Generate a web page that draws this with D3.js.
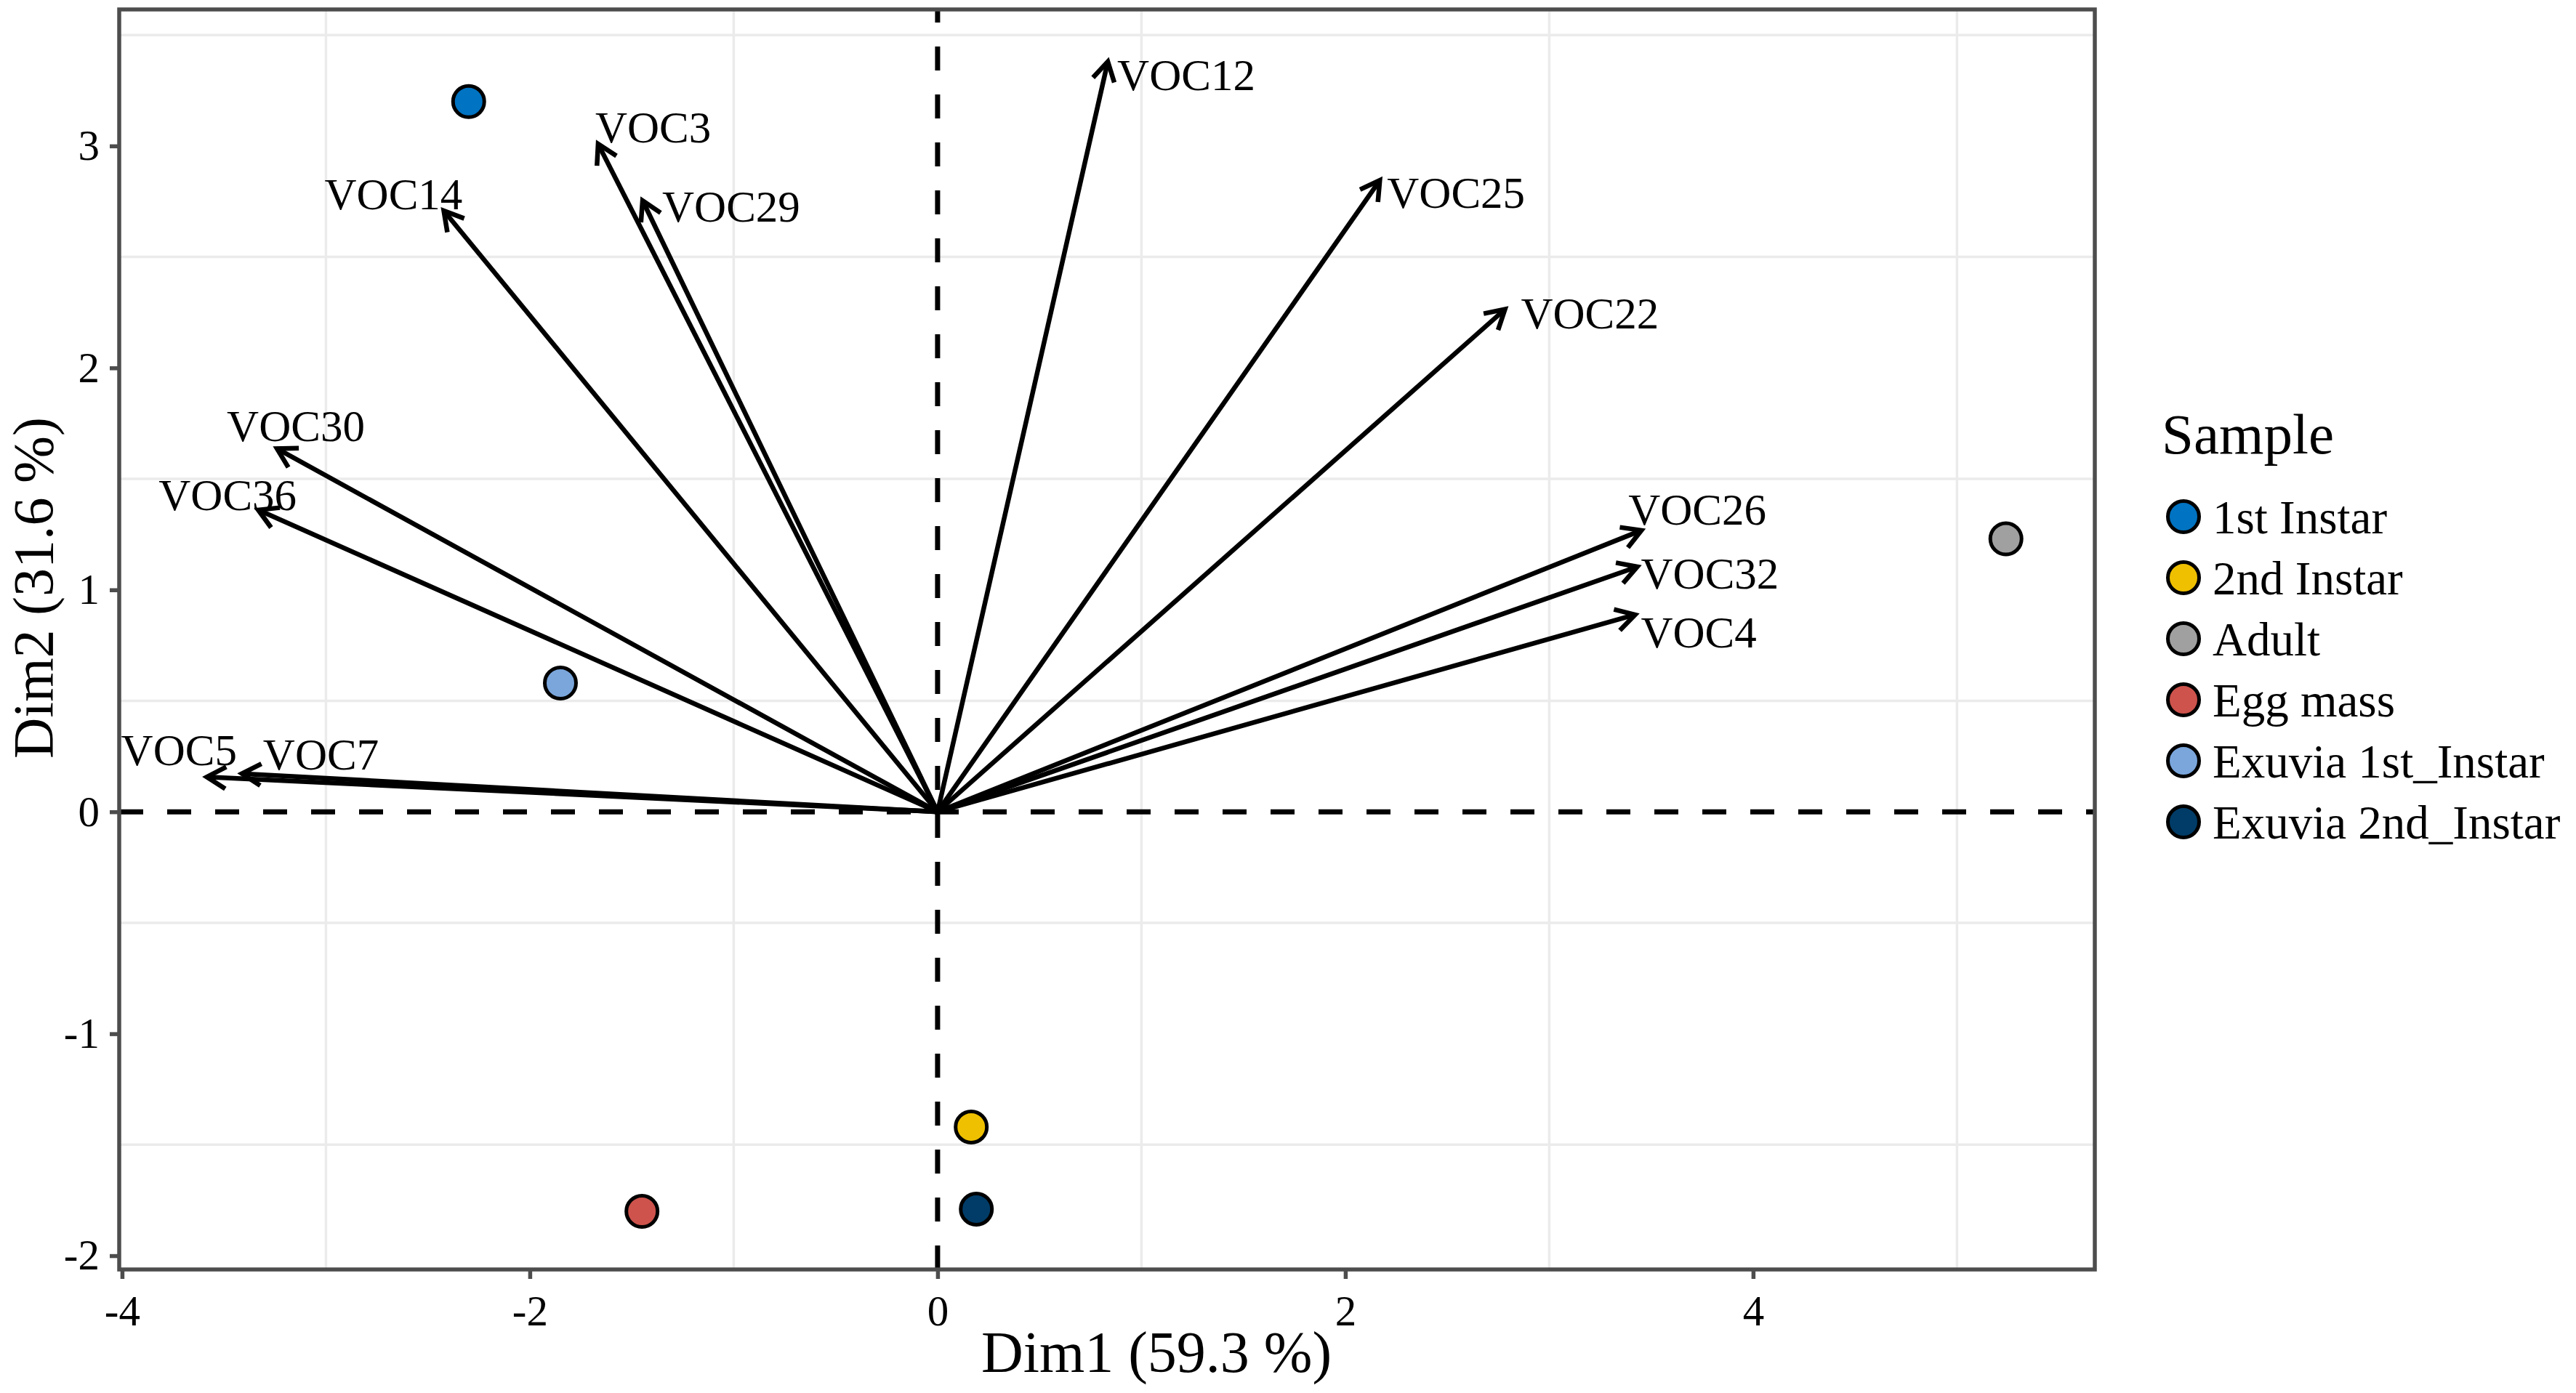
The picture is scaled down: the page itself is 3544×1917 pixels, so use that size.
<!DOCTYPE html>
<html>
<head>
<meta charset="utf-8">
<script src="https://cdn.jsdelivr.net/npm/d3@7"></script>
<style>
  html, body { margin: 0; padding: 0; background: #fff; }
  svg { display: block; }
  text { font-family: "Liberation Serif", "Times New Roman", serif; fill: #000; }
</style>
</head>
<body>
<svg id="chart" width="3544" height="1917"></svg>
<script>
// ---- data ----
const samples = ["1st Instar", "2nd Instar", "Adult", "Egg mass", "Exuvia 1st_Instar", "Exuvia 2nd_Instar"];
const sampleColors = ["#0073C2", "#EFC000", "#A0A0A0", "#CD534C", "#7AA6DC", "#003C67"];
const sampleDim1 = [-2.30, 0.165, 5.24, -1.45, -1.85, 0.19];
const sampleDim2 = [3.20, -1.42, 1.23, -1.80, 0.58, -1.79];

const variables = ["VOC3", "VOC29", "VOC14", "VOC30", "VOC36", "VOC5", "VOC7", "VOC12", "VOC25", "VOC22", "VOC26", "VOC32", "VOC4"];
const varDim1 = [-1.665, -1.447, -2.422, -3.240, -3.332, -3.584, -3.412, 0.835, 2.169, 2.783, 3.452, 3.432, 3.421];
const varDim2 = [3.009, 2.754, 2.708, 1.636, 1.360, 0.157, 0.172, 3.380, 2.845, 2.264, 1.268, 1.104, 0.888];

const xTicks = [-4, -2, 0, 2, 4];
const yTicks = [-2, -1, 0, 1, 2, 3];
const xMinorGrid = [-3, -1, 1, 3, 5];
const yMinorGrid = [-1.5, -0.5, 0.5, 1.5, 2.5, 3.5];
const xTitle = "Dim1 (59.3 %)";
const yTitle = "Dim2 (31.6 %)";
const legendTitle = "Sample";

// ---- layout (label nudges in px, text start/baseline relative to arrow tip) ----
const labelNudge = {
  VOC3: [-4, -2], VOC29: [27, 29], VOC14: [-164, -2], VOC30: [-69, -10],
  VOC36: [-137, 0], VOC5: [-118, -16], VOC7: [29, -6], VOC12: [13, 39],
  VOC25: [10, 38], VOC22: [22, 26], VOC26: [-18, -8], VOC32: [5, 30], VOC4: [8, 45]
};

const panel = { left: 164, right: 2882, top: 13, bottom: 1747 };
const x = d3.scaleLinear().domain([-4.014, 5.676]).range([panel.left, panel.right]);
const y = d3.scaleLinear().domain([-2.062, 3.615]).range([panel.bottom, panel.top]);

const svg = d3.select("#chart");
svg.append("rect").attr("width", 3544).attr("height", 1917).attr("fill", "#fff");

// grid (minor only visible)
const grid = svg.append("g");
grid.selectAll("line.vx").data(xMinorGrid).join("line")
  .attr("x1", d => x(d)).attr("x2", d => x(d))
  .attr("y1", panel.top).attr("y2", panel.bottom)
  .attr("stroke", "#ebebeb").attr("stroke-width", 3.5);
grid.selectAll("line.hy").data(yMinorGrid).join("line")
  .attr("y1", d => y(d)).attr("y2", d => y(d))
  .attr("x1", panel.left).attr("x2", panel.right)
  .attr("stroke", "#ebebeb").attr("stroke-width", 3.5);

// reference dashed lines
svg.append("line")
  .attr("x1", x(0)).attr("x2", x(0)).attr("y1", panel.bottom).attr("y2", panel.top)
  .attr("stroke", "#000").attr("stroke-width", 7).attr("stroke-dasharray", "33,33");
svg.append("line")
  .attr("x1", panel.left).attr("x2", panel.right).attr("y1", y(0)).attr("y2", y(0))
  .attr("stroke", "#000").attr("stroke-width", 7).attr("stroke-dasharray", "33,33");

// variable arrows
const vars = variables.map((v, i) => ({ name: v, d1: varDim1[i], d2: varDim2[i] }));
const arrows = svg.append("g").attr("stroke", "#000").attr("stroke-width", 6.5)
  .attr("fill", "none").attr("stroke-linecap", "butt");
const headLen = 30, headAng = Math.PI / 6;
vars.forEach(v => {
  const x0 = x(0), y0 = y(0), x1 = x(v.d1), y1 = y(v.d2);
  arrows.append("line").attr("x1", x0).attr("y1", y0).attr("x2", x1).attr("y2", y1);
  const ang = Math.atan2(y1 - y0, x1 - x0);
  const p1 = [x1 - headLen * Math.cos(ang - headAng), y1 - headLen * Math.sin(ang - headAng)];
  const p2 = [x1 - headLen * Math.cos(ang + headAng), y1 - headLen * Math.sin(ang + headAng)];
  arrows.append("path")
    .attr("d", `M${p1[0]},${p1[1]}L${x1},${y1}L${p2[0]},${p2[1]}`)
    .attr("stroke-linejoin", "miter");
});

// variable labels
svg.append("g").selectAll("text").data(vars).join("text")
  .attr("x", d => x(d.d1) + labelNudge[d.name][0])
  .attr("y", d => y(d.d2) + labelNudge[d.name][1])
  .attr("font-size", 61)
  .text(d => d.name);

// sample points
const pts = samples.map((s, i) => ({ name: s, d1: sampleDim1[i], d2: sampleDim2[i], c: sampleColors[i] }));
svg.append("g").selectAll("circle").data(pts).join("circle")
  .attr("cx", d => x(d.d1)).attr("cy", d => y(d.d2)).attr("r", 21.5)
  .attr("fill", d => d.c).attr("stroke", "#000").attr("stroke-width", 5);

// panel border
svg.append("rect")
  .attr("x", panel.left).attr("y", panel.top)
  .attr("width", panel.right - panel.left).attr("height", panel.bottom - panel.top)
  .attr("fill", "none").attr("stroke", "#4d4d4d").attr("stroke-width", 5.5);

// axes
const xAxis = d3.axisBottom(x).tickValues(xTicks).tickSize(13).tickPadding(22)
  .tickFormat(d => d < 0 ? "-" + Math.abs(d) : d);
const gx = svg.append("g").attr("transform", `translate(0,${panel.bottom})`).call(xAxis);
gx.select(".domain").remove();
gx.selectAll(".tick line").attr("stroke", "#4d4d4d").attr("stroke-width", 5.5);
gx.selectAll(".tick text").attr("font-size", 59).attr("font-family", "Liberation Serif").attr("fill", "#000");

const yAxis = d3.axisLeft(y).tickValues(yTicks).tickSize(13).tickPadding(14)
  .tickFormat(d => d < 0 ? "-" + Math.abs(d) : d);
const gy = svg.append("g").attr("transform", `translate(${panel.left},0)`).call(yAxis);
gy.select(".domain").remove();
gy.selectAll(".tick line").attr("stroke", "#4d4d4d").attr("stroke-width", 5.5);
gy.selectAll(".tick text").attr("font-size", 59).attr("font-family", "Liberation Serif").attr("fill", "#000");

// axis titles
svg.append("text").attr("x", 1591).attr("y", 1888).attr("text-anchor", "middle")
  .attr("font-size", 80).text(xTitle);
svg.append("text").attr("transform", "translate(72,809) rotate(-90)").attr("text-anchor", "middle")
  .attr("font-size", 78).text(yTitle);

// legend
const legend = svg.append("g");
legend.append("text").attr("x", 2974).attr("y", 624).attr("font-size", 79).text(legendTitle);
const legY = d3.scalePoint().domain(samples).range([711, 1131]);
const li = legend.selectAll("g.item").data(pts).join("g").attr("class", "item");
li.append("circle").attr("cx", 3004).attr("cy", d => legY(d.name)).attr("r", 21.5)
  .attr("fill", d => d.c).attr("stroke", "#000").attr("stroke-width", 5);
li.append("text").attr("x", 3044).attr("y", d => legY(d.name) + 23)
  .attr("font-size", 65).text(d => d.name);
</script>
</body>
</html>
